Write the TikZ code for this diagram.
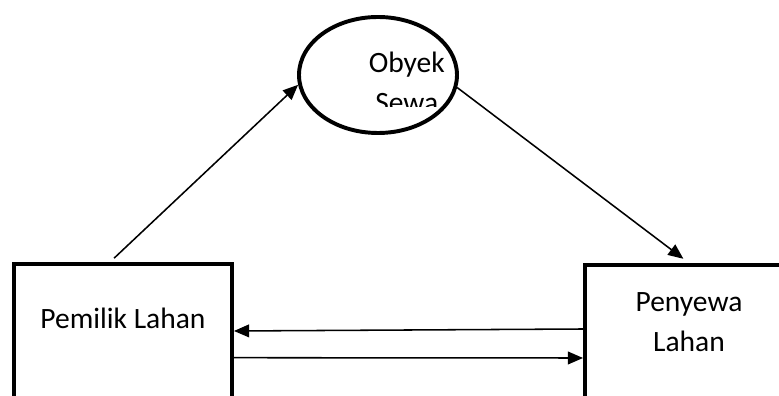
\documentclass[tikz,border=0pt]{standalone}
\usepackage{fontspec}
\usepackage{tikz}
\usetikzlibrary{shapes.geometric,arrows.meta}
\setmainfont{Carlito}

\tikzset{
    box/.style={draw, line width=2.8pt, inner sep=0pt, align=center},
    object/.style={draw, ellipse, line width=2.8pt, inner sep=0pt},
    arrow/.style={line width=1.1pt, -{Triangle[length=3.8mm,width=3.2mm]}}
}

\begin{document}
\begin{tikzpicture}[font=\fontsize{21}{28.5}\selectfont]
\useasboundingbox (0,0) rectangle (19.475,9.9);
\clip (0,0) rectangle (19.475,9.9);

% The two parties, their boxes run off the bottom edge
\node[box, minimum width=5.45cm, text height=1.625cm, text depth=2.175cm, anchor=base] (pemilik) at (3.075,1.675) {Pemilik Lahan};
\node[box, minimum width=5.2cm, text height=2.175cm, text depth=1.6cm, anchor=base] (penyewa) at (17.225,1.1) {Penyewa\\Lahan};

% The leased object, its label is cut off at the bottom
\node[object, minimum width=3.95cm, minimum height=2.9cm] (obyek) at (9.45,8.025) {};
\begin{scope}
    \clip (obyek.west |- 0,7.225) rectangle (obyek.east |- obyek.north);
    \node[align=center, anchor=base] (obyeklabel) at (10.17,7.075) {Obyek\\Sewa};
\end{scope}

% Flows between them
\draw[arrow, shorten <=4pt] ([xshift=-0.325cm]pemilik.north) -- (obyek.187);
\draw[arrow, shorten >=5pt] (obyek.-9) -- (penyewa.north);
\draw[arrow] ([yshift=0.2875cm]penyewa.west) -- ([yshift=0.225cm]pemilik.east);
\draw[arrow] ([yshift=-0.4425cm]pemilik.east) -- ([yshift=-0.4375cm]penyewa.west);
\end{tikzpicture}
\end{document}
